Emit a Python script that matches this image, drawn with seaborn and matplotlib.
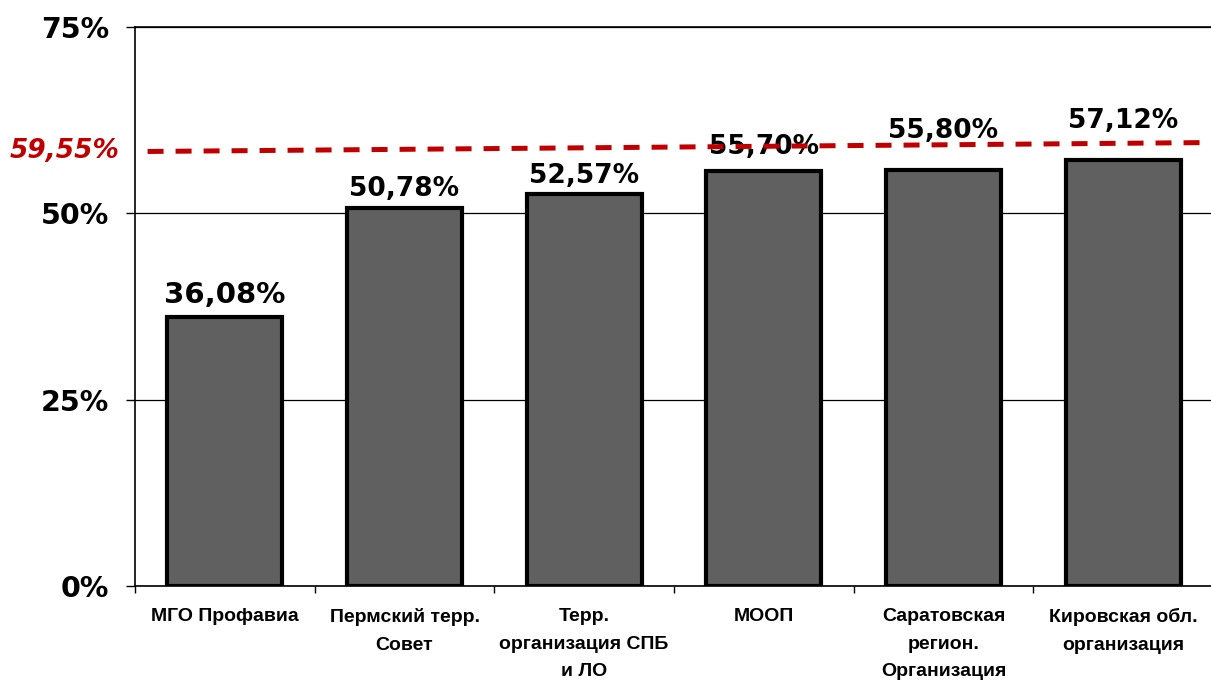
import matplotlib
matplotlib.use("Agg")
import matplotlib.pyplot as plt
import matplotlib.transforms as mtransforms
import seaborn as sns

# ---------------- data ----------------
categories = [
    "МГО Профавиа",
    "Пермский терр.\nСовет",
    "Терр.\nорганизация СПБ\nи ЛО",
    "МООП",
    "Саратовская\nрегион.\nОрганизация",
    "Кировская обл.\nорганизация",
]
values = [36.08, 50.78, 52.57, 55.70, 55.80, 57.12]
value_labels = ["36,08%", "50,78%", "52,57%", "55,70%", "55,80%", "57,12%"]

y_ticks = [0, 25, 50, 75]
y_tick_labels = ["0%", "25%", "50%", "75%"]

avg_label = "59,55%"
avg_line_x = [-0.43, 5.5]
avg_line_y = [58.3, 59.5]

# label placement (points above bar top) and sizes
label_offsets = [10, 8, 8, 12, 23, 23]
label_sizes = [21, 19, 19, 19, 19, 19]

BAR_COLOR = "#606060"
RED = "#C00000"

# ---------------- plot ----------------
sns.set_style("white")
plt.rcParams["font.family"] = ["DejaVu Sans"]
plt.rcParams["text.color"] = "black"
plt.rcParams["xtick.color"] = "black"
plt.rcParams["ytick.color"] = "black"

fig = plt.figure(figsize=(12.11, 6.81), dpi=100)
ax = fig.add_axes([135 / 1211, 95 / 681, 1078 / 1211, 559 / 681])

sns.barplot(x=categories, y=values, color=BAR_COLOR, saturation=1,
            edgecolor="black", linewidth=3, width=0.64, ax=ax)

ax.set_xlim(-0.5, 5.5)
ax.set_ylim(0, 75)

# grid behind bars
ax.set_axisbelow(True)
ax.yaxis.grid(True, color="black", linewidth=0.9)
ax.xaxis.grid(False)

for side in ["left", "bottom", "top"]:
    ax.spines[side].set_visible(True)
    ax.spines[side].set_color("black")
    ax.spines[side].set_linewidth(1.2)
ax.spines["right"].set_visible(False)

# y axis
ax.set_yticks(y_ticks)
ax.set_yticklabels(y_tick_labels, fontsize=20.5, fontweight="bold")
ax.tick_params(axis="y", direction="out", length=6.5, width=1, pad=12,
               color="black", labelcolor="black", left=True)

# x axis: labels at centers, tick marks at boundaries
ax.set_xticks(range(len(categories)))
ax.set_xticklabels(categories, fontsize=14, fontweight="bold",
                   family="Liberation Sans", linespacing=1.8)
ax.set_xticks([i - 0.5 for i in range(len(categories) + 1)], minor=True)
ax.tick_params(axis="x", which="major", length=0, pad=16,
               labelcolor="black")
ax.tick_params(axis="x", which="minor", direction="out", length=5,
               width=1, color="black", bottom=True)
ax.set_xlabel("")
ax.set_ylabel("")

# value labels
for i, (v, lab) in enumerate(zip(values, value_labels)):
    ax.annotate(lab, xy=(i, v), xytext=(0, label_offsets[i]),
                textcoords="offset points", ha="center", va="baseline",
                fontsize=label_sizes[i], fontweight="bold", color="black")

# average dashed line (dash pattern scales with linewidth)
avg, = ax.plot(avg_line_x, avg_line_y, color=RED, linewidth=3.6,
               clip_on=False, zorder=5)
avg.set_dashes([3.2, 2.4])
avg.set_dash_capstyle("butt")
trans = mtransforms.blended_transform_factory(ax.transAxes, ax.transData)
ax.text(-0.014, avg_line_y[0], avg_label, transform=trans, ha="right",
        va="center", fontsize=19, fontweight="bold", style="italic",
        color=RED)

fig.savefig("out.png", dpi=100)
